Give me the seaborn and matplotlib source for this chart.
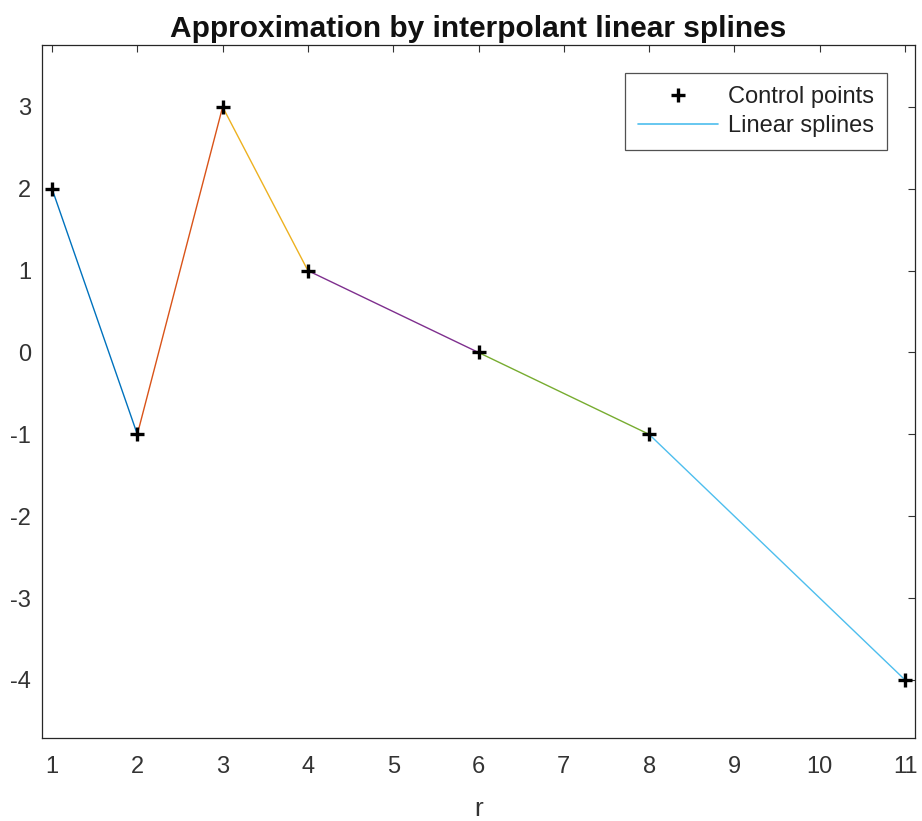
import matplotlib
matplotlib.use("Agg")
import matplotlib.pyplot as plt
from matplotlib.lines import Line2D
import seaborn as sns
import pandas as pd

# data
x_pts = [1, 2, 3, 4, 6, 8, 11]
y_pts = [2, -1, 3, 1, 0, -1, -4]
seg_colors = ["#0072BD", "#D95319", "#EDB120", "#7E2F8E", "#77AC30", "#4DBEEE"]
x_ticks = [1, 2, 3, 4, 5, 6, 7, 8, 9, 10, 11]
y_ticks = [-4, -3, -2, -1, 0, 1, 2, 3]
legend_labels = ["Control points", "Linear splines"]

sns.set_theme(style="white")
plt.rcParams['font.family'] = ['Liberation Sans', 'DejaVu Sans']
plt.rcParams['axes.unicode_minus'] = False

rows = []
for i in range(len(x_pts) - 1):
    rows.append({"x": x_pts[i], "y": y_pts[i], "seg": i})
    rows.append({"x": x_pts[i + 1], "y": y_pts[i + 1], "seg": i})
seg_df = pd.DataFrame(rows)
pts_df = pd.DataFrame({"x": x_pts, "y": y_pts})

fig = plt.figure(figsize=(9.22, 8.21), dpi=100)
ax = fig.add_axes([0.0456, 0.1011, 0.9468, 0.8441])

sns.lineplot(data=seg_df, x="x", y="y", hue="seg", palette=seg_colors,
             linewidth=1.0, legend=False, ax=ax, estimator=None, sort=False)
ax.plot(pts_df["x"], pts_df["y"], linestyle="none", marker="+", color="black",
        markersize=10, markeredgewidth=2.4, zorder=5)

ax.set_xlim(0.883, 11.117)
ax.set_ylim(-4.71, 3.757)
ax.set_xticks(x_ticks)
ax.set_yticks(y_ticks)
ax.tick_params(direction="in", length=5, width=0.8, top=True, right=True,
               labelsize=17, colors="#333333")
ax.tick_params(axis="x", pad=13)
ax.tick_params(axis="y", pad=8)
for s in ax.spines.values():
    s.set_color("#262626")
    s.set_linewidth(0.9)
ax.set_xlabel("r", fontsize=19, color="#333333", labelpad=14)
ax.set_ylabel("")
ax.set_title("Approximation by interpolant linear splines", fontsize=21.5,
             fontweight="bold", color="#111111", pad=6)

handles = [
    Line2D([], [], linestyle="none", marker="+", color="black", markersize=10,
           markeredgewidth=2.4),
    Line2D([], [], color=seg_colors[-1], linewidth=1.2),
]
leg = ax.legend(handles, legend_labels, loc="upper right",
                fontsize=17, frameon=True, fancybox=False, edgecolor="#262626",
                handlelength=3.4, handletextpad=0.4, borderaxespad=1.2,
                borderpad=0.55, labelspacing=0.3)
leg.get_frame().set_linewidth(0.9)
for t in leg.get_texts():
    t.set_color("#222222")

fig.savefig("out.png", dpi=100)
